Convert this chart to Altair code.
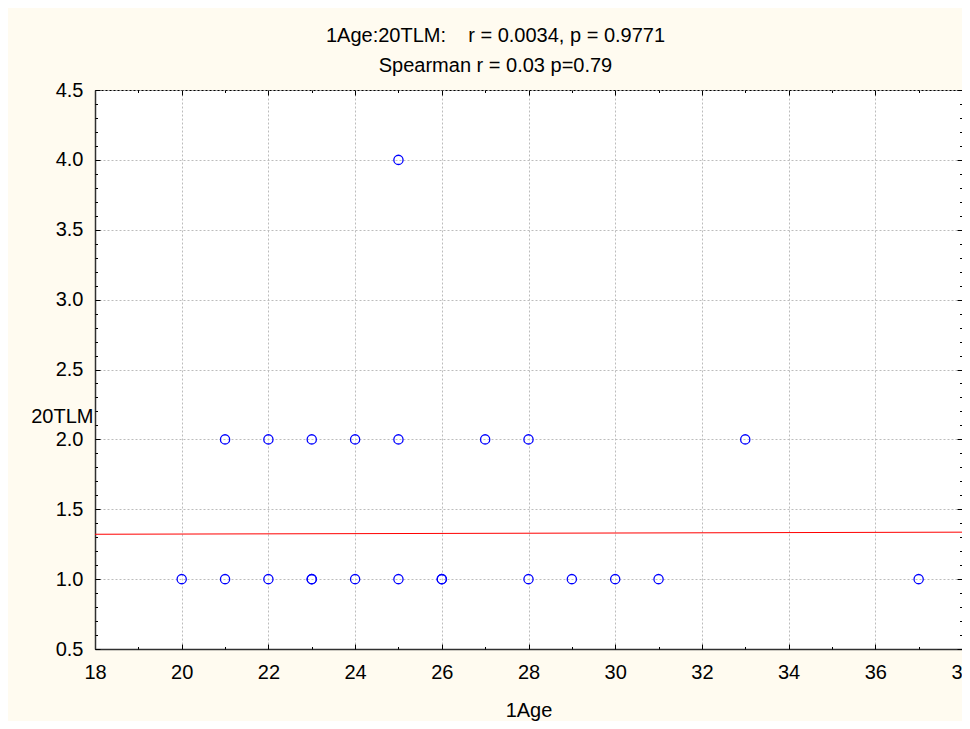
import altair as alt
import pandas as pd

# ---- data ----
age = [20, 21, 22, 23, 23, 24, 25, 26, 26, 28, 29, 30, 31, 37,
       21, 22, 23, 24, 25, 27, 28, 33,
       25]
tlm = [1.0, 1.0, 1.0, 1.0, 1.0, 1.0, 1.0, 1.0, 1.0, 1.0, 1.0, 1.0, 1.0, 1.0,
       2.0, 2.0, 2.0, 2.0, 2.0, 2.0, 2.0, 2.0,
       4.0]

fit_age = [18, 38]
fit_tlm = [1.321, 1.336]

x_major = [18, 20, 22, 24, 26, 28, 30, 32, 34, 36, 38]
x_minor = [18, 19, 20, 21, 22, 23, 24, 25, 26, 27, 28, 29, 30, 31, 32, 33, 34, 35, 36, 37, 38]
y_major = [0.5, 1.0, 1.5, 2.0, 2.5, 3.0, 3.5, 4.0, 4.5]
y_minor = [0.5, 0.6, 0.7, 0.8, 0.9, 1.0, 1.1, 1.2, 1.3, 1.4, 1.5, 1.6, 1.7, 1.8, 1.9,
           2.0, 2.1, 2.2, 2.3, 2.4, 2.5, 2.6, 2.7, 2.8, 2.9, 3.0, 3.1, 3.2, 3.3, 3.4,
           3.5, 3.6, 3.7, 3.8, 3.9, 4.0, 4.1, 4.2, 4.3, 4.4, 4.5]

title_lines = ["1Age:20TLM:\u00a0\u00a0\u00a0\u00a0r = 0.0034, p = 0.9771", "Spearman r = 0.03 p=0.79"]

pts = pd.DataFrame({"age": age, "tlm": tlm})
fit = pd.DataFrame({"age": fit_age, "tlm": fit_tlm})

FONT = "Liberation Sans"
W, H = 867, 559

xscale = alt.Scale(domain=[18, 38], nice=False, zero=False)
yscale = alt.Scale(domain=[0.5, 4.5], nice=False, zero=False)

X_TEST = "datum.value % 2 === 0"
Y_TEST = "abs(datum.value * 2 - round(datum.value * 2)) < 0.001"


def tick_axis(orient, offset, values, test):
    return alt.Axis(
        orient=orient, offset=offset, values=values,
        labels=False, grid=False, domain=False, title=None,
        ticks=True, tickColor="black", tickWidth=1,
        tickSize={"condition": {"test": test, "value": 5}, "value": 2.5},
    )


x_main = alt.Axis(
    orient="bottom", values=x_major, format="d",
    grid=True, gridDash=[2, 2], gridColor="#bcbcbc", gridWidth=1,
    ticks=False, tickSize=0, labelPadding=13,
    labelFont=FONT, labelFontSize=20, labelColor="black",
    labelFlush=False, labelOverlap=False,
    domain=True, domainColor="#303030", domainWidth=1.5,
    title="1Age", titleFont=FONT, titleFontSize=20, titleFontWeight="normal",
    titleColor="black", titleY=67, titleBaseline="alphabetic",
)
y_main = alt.Axis(
    orient="left", values=y_major, format=".1f",
    grid=True, gridDash=[2, 2], gridColor="#bcbcbc", gridWidth=1,
    ticks=False, tickSize=0, labelPadding=12,
    labelFont=FONT, labelFontSize=20, labelColor="black",
    labelFlush=False, labelOverlap=False,
    domain=True, domainColor="#303030", domainWidth=1.5,
    title="20TLM", titleFont=FONT, titleFontSize=20, titleFontWeight="normal",
    titleColor="black", titleAngle=0, titleAlign="right",
    titleX=-2, titleY=332, titleBaseline="alphabetic",
)

points = alt.Chart(pts).mark_point(
    shape="circle", filled=False, color="#0000FF", size=85, strokeWidth=1.3, opacity=1
).encode(
    x=alt.X("age:Q", scale=xscale, axis=x_main),
    y=alt.Y("tlm:Q", scale=yscale, axis=y_main),
)

line = alt.Chart(fit).mark_line(color="#FF0000", strokeWidth=1).encode(
    x=alt.X("age:Q", scale=xscale, axis=tick_axis("top", -H, x_minor, X_TEST)),
    y=alt.Y("tlm:Q", scale=yscale, axis=tick_axis("right", -W, y_minor, Y_TEST)),
)

ghost = alt.Chart(fit).mark_point(opacity=0).encode(
    x=alt.X("age:Q", scale=xscale, axis=tick_axis("bottom", -H, x_minor, X_TEST)),
    y=alt.Y("tlm:Q", scale=yscale, axis=tick_axis("left", -W, y_minor, Y_TEST)),
)

chart = alt.layer(points, line, ghost).resolve_axis(
    x="independent", y="independent"
).properties(
    width=W, height=H,
    autosize=alt.AutoSizeParams(type="none"),
    padding={"left": 87, "top": 82, "right": 0, "bottom": 72},
    background="#FFFBF0",
    title=alt.TitleParams(
        text=title_lines, font=FONT, fontSize=20, fontWeight="normal",
        color="black", lineHeight=30, anchor="middle", frame="group",
        dx=-33, offset=4,
    ),
).configure_view(fill="white", stroke="black", strokeWidth=1)

chart.save("out.html", embed_options={"renderer": "svg", "actions": False})
